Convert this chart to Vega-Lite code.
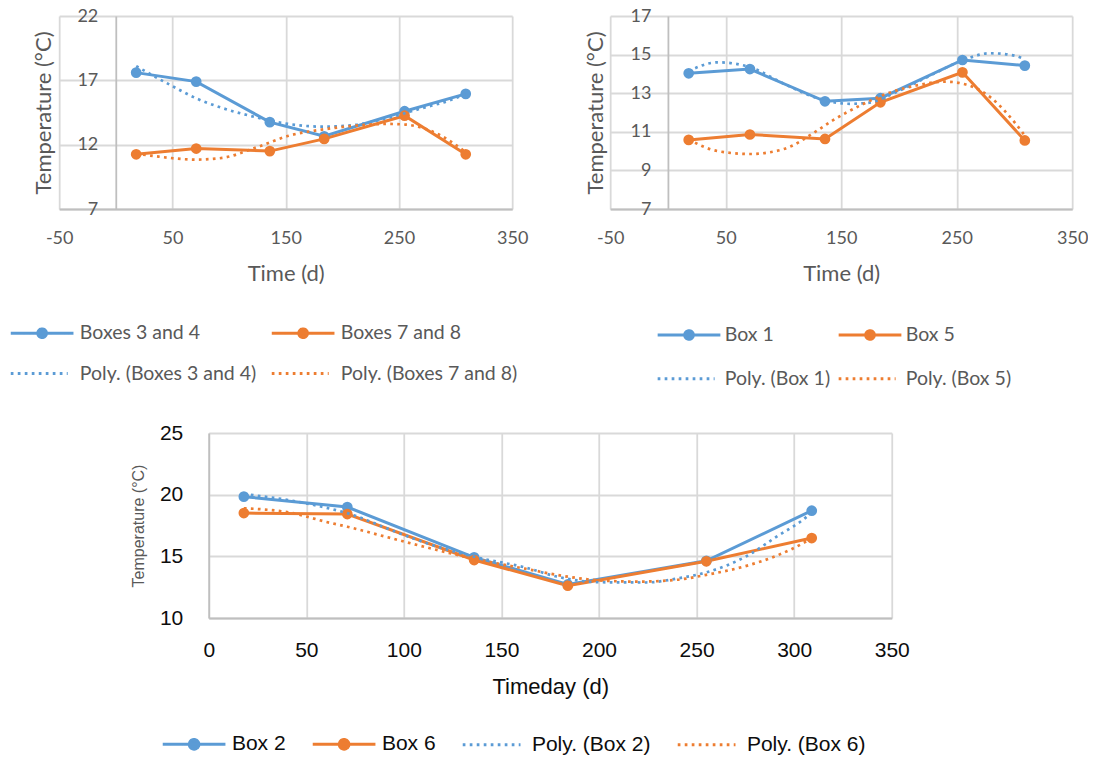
{
  "$schema": "https://vega.github.io/schema/vega-lite/v6.json",
  "background": "white",
  "padding": {"left": 10, "top": 7, "right": 0, "bottom": 0},
  "config": {
    "view": {"stroke": null},
    "axis": {"ticks": false, "titleFontWeight": "normal", "gridColor": "#D9D9D9", "gridWidth": 1.8, "domainColor": "#BFBFBF", "domainWidth": 1.8, "labelFlush": false, "labelOverlap": false},
    "legend": {"padding": 0, "title": null, "symbolOpacity": 1, "labelLimit": 500, "direction": "horizontal"}
  },
  "datasets": {
    "tl_obs": [
      {"s": "Boxes 3 and 4", "t": 18, "v": 17.6}, {"s": "Boxes 3 and 4", "t": 71, "v": 16.9}, {"s": "Boxes 3 and 4", "t": 136, "v": 13.75}, {"s": "Boxes 3 and 4", "t": 184, "v": 12.65}, {"s": "Boxes 3 and 4", "t": 255, "v": 14.6}, {"s": "Boxes 3 and 4", "t": 309, "v": 15.95},
      {"s": "Boxes 7 and 8", "t": 18, "v": 11.25}, {"s": "Boxes 7 and 8", "t": 71, "v": 11.7}, {"s": "Boxes 7 and 8", "t": 136, "v": 11.5}, {"s": "Boxes 7 and 8", "t": 184, "v": 12.45}, {"s": "Boxes 7 and 8", "t": 255, "v": 14.25}, {"s": "Boxes 7 and 8", "t": 309, "v": 11.25}
    ],
    "tl_poly": [
      {"s": "Poly. (Boxes 3 and 4)", "t": 18, "v": 18.1}, {"s": "Poly. (Boxes 3 and 4)", "t": 50, "v": 16.55}, {"s": "Poly. (Boxes 3 and 4)", "t": 71, "v": 15.6}, {"s": "Poly. (Boxes 3 and 4)", "t": 94, "v": 14.85}, {"s": "Poly. (Boxes 3 and 4)", "t": 123, "v": 14.15}, {"s": "Poly. (Boxes 3 and 4)", "t": 153, "v": 13.6}, {"s": "Poly. (Boxes 3 and 4)", "t": 182, "v": 13.4}, {"s": "Poly. (Boxes 3 and 4)", "t": 212, "v": 13.55}, {"s": "Poly. (Boxes 3 and 4)", "t": 241, "v": 14.1}, {"s": "Poly. (Boxes 3 and 4)", "t": 271, "v": 14.85}, {"s": "Poly. (Boxes 3 and 4)", "t": 295, "v": 15.45}, {"s": "Poly. (Boxes 3 and 4)", "t": 309, "v": 15.95},
      {"s": "Poly. (Boxes 7 and 8)", "t": 18, "v": 11.3}, {"s": "Poly. (Boxes 7 and 8)", "t": 35, "v": 11.1}, {"s": "Poly. (Boxes 7 and 8)", "t": 71, "v": 10.84}, {"s": "Poly. (Boxes 7 and 8)", "t": 94, "v": 10.97}, {"s": "Poly. (Boxes 7 and 8)", "t": 123, "v": 11.75}, {"s": "Poly. (Boxes 7 and 8)", "t": 153, "v": 12.7}, {"s": "Poly. (Boxes 7 and 8)", "t": 182, "v": 13.17}, {"s": "Poly. (Boxes 7 and 8)", "t": 212, "v": 13.48}, {"s": "Poly. (Boxes 7 and 8)", "t": 241, "v": 13.61}, {"s": "Poly. (Boxes 7 and 8)", "t": 256, "v": 13.56}, {"s": "Poly. (Boxes 7 and 8)", "t": 271, "v": 13.3}, {"s": "Poly. (Boxes 7 and 8)", "t": 300, "v": 12.0}, {"s": "Poly. (Boxes 7 and 8)", "t": 309, "v": 11.4}
    ],
    "tr_obs": [
      {"s": "Box 1", "t": 18, "v": 14.03}, {"s": "Box 1", "t": 71, "v": 14.25}, {"s": "Box 1", "t": 136, "v": 12.58}, {"s": "Box 1", "t": 184, "v": 12.74}, {"s": "Box 1", "t": 255, "v": 14.72}, {"s": "Box 1", "t": 309, "v": 14.43},
      {"s": "Box 5", "t": 18, "v": 10.58}, {"s": "Box 5", "t": 71, "v": 10.86}, {"s": "Box 5", "t": 136, "v": 10.63}, {"s": "Box 5", "t": 184, "v": 12.53}, {"s": "Box 5", "t": 255, "v": 14.08}, {"s": "Box 5", "t": 309, "v": 10.55}
    ],
    "tr_poly": [
      {"s": "Poly. (Box 1)", "t": 18, "v": 14.15}, {"s": "Poly. (Box 1)", "t": 43, "v": 14.6}, {"s": "Poly. (Box 1)", "t": 71, "v": 14.35}, {"s": "Poly. (Box 1)", "t": 100, "v": 13.5}, {"s": "Poly. (Box 1)", "t": 129, "v": 12.75}, {"s": "Poly. (Box 1)", "t": 158, "v": 12.45}, {"s": "Poly. (Box 1)", "t": 173, "v": 12.5}, {"s": "Poly. (Box 1)", "t": 201, "v": 13.15}, {"s": "Poly. (Box 1)", "t": 230, "v": 14.0}, {"s": "Poly. (Box 1)", "t": 255, "v": 14.7}, {"s": "Poly. (Box 1)", "t": 279, "v": 15.07}, {"s": "Poly. (Box 1)", "t": 300, "v": 14.95}, {"s": "Poly. (Box 1)", "t": 309, "v": 14.75},
      {"s": "Poly. (Box 5)", "t": 18, "v": 10.6}, {"s": "Poly. (Box 5)", "t": 43, "v": 10.0}, {"s": "Poly. (Box 5)", "t": 71, "v": 9.85}, {"s": "Poly. (Box 5)", "t": 100, "v": 10.1}, {"s": "Poly. (Box 5)", "t": 129, "v": 11.05}, {"s": "Poly. (Box 5)", "t": 143, "v": 11.6}, {"s": "Poly. (Box 5)", "t": 166, "v": 12.35}, {"s": "Poly. (Box 5)", "t": 184, "v": 12.85}, {"s": "Poly. (Box 5)", "t": 215, "v": 13.4}, {"s": "Poly. (Box 5)", "t": 240, "v": 13.6}, {"s": "Poly. (Box 5)", "t": 258, "v": 13.45}, {"s": "Poly. (Box 5)", "t": 280, "v": 12.75}, {"s": "Poly. (Box 5)", "t": 300, "v": 11.5}, {"s": "Poly. (Box 5)", "t": 309, "v": 10.8}
    ],
    "b_obs": [
      {"s": "Box 2", "t": 18, "v": 19.84}, {"s": "Box 2", "t": 71, "v": 19.0}, {"s": "Box 2", "t": 136, "v": 14.92}, {"s": "Box 2", "t": 184, "v": 12.72}, {"s": "Box 2", "t": 255, "v": 14.64}, {"s": "Box 2", "t": 309, "v": 18.7},
      {"s": "Box 6", "t": 18, "v": 18.51}, {"s": "Box 6", "t": 71, "v": 18.43}, {"s": "Box 6", "t": 136, "v": 14.7}, {"s": "Box 6", "t": 184, "v": 12.62}, {"s": "Box 6", "t": 255, "v": 14.6}, {"s": "Box 6", "t": 309, "v": 16.48}
    ],
    "b_poly": [
      {"s": "Poly. (Box 2)", "t": 18, "v": 20.05}, {"s": "Poly. (Box 2)", "t": 43, "v": 19.5}, {"s": "Poly. (Box 2)", "t": 60, "v": 18.95}, {"s": "Poly. (Box 2)", "t": 71, "v": 18.5}, {"s": "Poly. (Box 2)", "t": 94, "v": 17.1}, {"s": "Poly. (Box 2)", "t": 111, "v": 16.1}, {"s": "Poly. (Box 2)", "t": 136, "v": 14.97}, {"s": "Poly. (Box 2)", "t": 162, "v": 14.1}, {"s": "Poly. (Box 2)", "t": 180, "v": 13.3}, {"s": "Poly. (Box 2)", "t": 200, "v": 12.9}, {"s": "Poly. (Box 2)", "t": 224, "v": 12.88}, {"s": "Poly. (Box 2)", "t": 240, "v": 13.2}, {"s": "Poly. (Box 2)", "t": 255, "v": 13.7}, {"s": "Poly. (Box 2)", "t": 276, "v": 15.05}, {"s": "Poly. (Box 2)", "t": 291, "v": 16.6}, {"s": "Poly. (Box 2)", "t": 307, "v": 18.3}, {"s": "Poly. (Box 2)", "t": 309, "v": 18.6},
      {"s": "Poly. (Box 6)", "t": 18, "v": 18.9}, {"s": "Poly. (Box 6)", "t": 43, "v": 18.5}, {"s": "Poly. (Box 6)", "t": 60, "v": 17.8}, {"s": "Poly. (Box 6)", "t": 71, "v": 17.4}, {"s": "Poly. (Box 6)", "t": 94, "v": 16.45}, {"s": "Poly. (Box 6)", "t": 111, "v": 15.75}, {"s": "Poly. (Box 6)", "t": 136, "v": 14.8}, {"s": "Poly. (Box 6)", "t": 162, "v": 14.0}, {"s": "Poly. (Box 6)", "t": 184, "v": 13.35}, {"s": "Poly. (Box 6)", "t": 200, "v": 13.05}, {"s": "Poly. (Box 6)", "t": 220, "v": 12.95}, {"s": "Poly. (Box 6)", "t": 240, "v": 13.1}, {"s": "Poly. (Box 6)", "t": 255, "v": 13.5}, {"s": "Poly. (Box 6)", "t": 276, "v": 14.25}, {"s": "Poly. (Box 6)", "t": 291, "v": 15.05}, {"s": "Poly. (Box 6)", "t": 307, "v": 16.3}, {"s": "Poly. (Box 6)", "t": 309, "v": 16.5}
    ]
  },
  "resolve": {"scale": {"color": "independent"}, "legend": {"color": "independent"}},
  "center": true,
  "spacing": 33,
  "vconcat": [
    {
      "hconcat": [
        {
          "width": 453, "height": 193,
          "encoding": {
            "x": {"field": "t", "type": "quantitative", "scale": {"domain": [-50, 350], "nice": false, "zero": false},
              "axis": {"values": [-50, 50, 150, 250, 350], "labelExpr": "datum.value < 0 ? '-' + abs(datum.value) : datum.label", "title": "Time (d)", "grid": true, "labelFont": "Lato", "labelFontSize": 18, "labelColor": "#595959", "labelPadding": 20, "titleFont": "Lato", "titleFontSize": 22, "titleColor": "#595959", "titlePadding": 16}},
            "y": {"field": "v", "type": "quantitative", "scale": {"domain": [7, 22], "nice": false, "zero": false},
              "axis": {"values": [7, 12, 17, 22], "title": "Temperature (°C)", "grid": true, "offset": -56.6, "labelFont": "Lato", "labelFontSize": 18, "labelColor": "#595959", "labelPadding": 18, "titleFont": "Lato", "titleFontSize": 22, "titleColor": "#595959", "titlePadding": 21}},
            "color": {"field": "s", "type": "nominal",
              "scale": {"domain": ["Boxes 3 and 4", "Boxes 7 and 8", "Poly. (Boxes 3 and 4)", "Poly. (Boxes 7 and 8)"], "range": ["#5B9BD5", "#ED7D31", "#5B9BD5", "#ED7D31"]},
              "legend": {"orient": "none", "legendX": -48.4, "legendY": 307, "columns": 2, "columnPadding": 8, "rowPadding": 18.8,
                "symbolSize": 256, "symbolStrokeWidth": 3, "symbolOffset": 21.6, "labelOffset": 28,
                "labelFont": "Lato", "labelFontSize": 19.5, "labelColor": "#595959",
                "encode": {"symbols": {"update": {
                  "shape": {"signal": "indexof(datum.value, 'Poly') == 0 ? 'M-3.92,0L3.2,0' : 'M-3.92,0L3.92,0M-0.54,0A0.54,0.54,0,1,1,0.54,0A0.54,0.54,0,1,1,-0.54,0Z'"},
                  "fill": {"signal": "datum.value == 'Boxes 3 and 4' ? '#5B9BD5' : (datum.value == 'Boxes 7 and 8' ? '#ED7D31' : 'transparent')"},
                  "stroke": {"signal": "indexof(datum.value, '3 and 4') >= 0 ? '#5B9BD5' : '#ED7D31'"},
                  "strokeDash": {"signal": "indexof(datum.value, 'Poly') == 0 ? [2.7, 4.3] : [1, 0]"}
                }}}}}
          },
          "layer": [
            {"data": {"name": "tl_obs"}, "mark": {"type": "line", "strokeWidth": 3}},
            {"data": {"name": "tl_obs"}, "mark": {"type": "point", "filled": true, "size": 115, "opacity": 1}},
            {"data": {"name": "tl_poly"}, "mark": {"type": "line", "strokeWidth": 2.7, "strokeDash": [2.7, 4.3], "interpolate": "monotone"}}
          ]
        },
        {
          "width": 462, "height": 193,
          "encoding": {
            "x": {"field": "t", "type": "quantitative", "scale": {"domain": [-50, 350], "nice": false, "zero": false},
              "axis": {"values": [-50, 50, 150, 250, 350], "labelExpr": "datum.value < 0 ? '-' + abs(datum.value) : datum.label", "title": "Time (d)", "grid": true, "labelFont": "Lato", "labelFontSize": 18, "labelColor": "#595959", "labelPadding": 20, "titleFont": "Lato", "titleFontSize": 22, "titleColor": "#595959", "titlePadding": 16}},
            "y": {"field": "v", "type": "quantitative", "scale": {"domain": [7, 17], "nice": false, "zero": false},
              "axis": {"values": [7, 9, 11, 13, 15, 17], "title": "Temperature (°C)", "grid": true, "offset": -57.75, "labelFont": "Lato", "labelFontSize": 18, "labelColor": "#595959", "labelPadding": 17, "titleFont": "Lato", "titleFontSize": 22, "titleColor": "#595959", "titlePadding": 23}},
            "color": {"field": "s", "type": "nominal",
              "scale": {"domain": ["Box 1", "Box 5", "Poly. (Box 1)", "Poly. (Box 5)"], "range": ["#5B9BD5", "#ED7D31", "#5B9BD5", "#ED7D31"]},
              "legend": {"orient": "none", "legendX": 47.5, "legendY": 308.8, "columns": 2, "columnPadding": 1, "rowPadding": 22.2,
                "symbolSize": 256, "symbolStrokeWidth": 3, "symbolOffset": 21.6, "labelOffset": 26,
                "labelFont": "Lato", "labelFontSize": 19.5, "labelColor": "#595959",
                "encode": {"symbols": {"update": {
                  "shape": {"signal": "indexof(datum.value, 'Poly') == 0 ? 'M-3.92,0L3.2,0' : 'M-3.92,0L3.92,0M-0.54,0A0.54,0.54,0,1,1,0.54,0A0.54,0.54,0,1,1,-0.54,0Z'"},
                  "fill": {"signal": "datum.value == 'Box 1' ? '#5B9BD5' : (datum.value == 'Box 5' ? '#ED7D31' : 'transparent')"},
                  "stroke": {"signal": "indexof(datum.value, 'Box 1') >= 0 ? '#5B9BD5' : '#ED7D31'"},
                  "strokeDash": {"signal": "indexof(datum.value, 'Poly') == 0 ? [2.7, 4.3] : [1, 0]"}
                }}}}}
          },
          "layer": [
            {"data": {"name": "tr_obs"}, "mark": {"type": "line", "strokeWidth": 3}},
            {"data": {"name": "tr_obs"}, "mark": {"type": "point", "filled": true, "size": 115, "opacity": 1}},
            {"data": {"name": "tr_poly"}, "mark": {"type": "line", "strokeWidth": 2.7, "strokeDash": [2.7, 4.3], "interpolate": "monotone"}}
          ]
        }
      ],
      "spacing": 98,
      "bounds": "flush",
      "resolve": {"scale": {"color": "independent"}, "legend": {"color": "independent"}}
    },
    {
      "width": 683, "height": 185,
      "title": {"text": " ", "orient": "right", "offset": 19, "fontSize": 10},
      "encoding": {
        "x": {"field": "t", "type": "quantitative", "scale": {"domain": [0, 350], "nice": false, "zero": false},
          "axis": {"values": [0, 50, 100, 150, 200, 250, 300, 350], "title": "Timeday (d)", "grid": true, "labelFont": "Liberation Sans", "labelFontSize": 21, "labelColor": "#0D0D0D", "labelPadding": 21, "titleFont": "Liberation Sans", "titleFontSize": 22, "titleColor": "#0D0D0D", "titlePadding": 16}},
        "y": {"field": "v", "type": "quantitative", "scale": {"domain": [10, 25], "nice": false, "zero": false},
          "axis": {"values": [10, 15, 20, 25], "title": "Temperature (°C)", "grid": true, "labelFont": "Liberation Sans", "labelFontSize": 21, "labelColor": "#0D0D0D", "labelPadding": 26, "titleFont": "Liberation Sans", "titleFontSize": 16, "titleColor": "#595959", "titlePadding": 13}},
        "color": {"field": "s", "type": "nominal",
          "scale": {"domain": ["Box 2", "Box 6", "Poly. (Box 2)", "Poly. (Box 6)"], "range": ["#5B9BD5", "#ED7D31", "#5B9BD5", "#ED7D31"]},
          "legend": {"orient": "none", "legendX": -46, "legendY": 300.5, "columns": 4, "columnPadding": 20, "rowPadding": 0,
            "symbolSize": 256, "symbolStrokeWidth": 3, "symbolOffset": 20.85, "labelOffset": 27.3,
            "labelFont": "Liberation Sans", "labelFontSize": 21, "labelColor": "#0D0D0D",
            "encode": {"symbols": {"update": {
              "shape": {"signal": "indexof(datum.value, 'Poly') == 0 ? 'M-3.92,0L3.3,0' : 'M-3.92,0L3.92,0M-0.6,0A0.6,0.6,0,1,1,0.6,0A0.6,0.6,0,1,1,-0.6,0Z'"},
              "fill": {"signal": "datum.value == 'Box 2' ? '#5B9BD5' : (datum.value == 'Box 6' ? '#ED7D31' : 'transparent')"},
              "stroke": {"signal": "indexof(datum.value, 'Box 2') >= 0 ? '#5B9BD5' : '#ED7D31'"},
              "strokeDash": {"signal": "indexof(datum.value, 'Poly') == 0 ? [2.7, 4.3] : [1, 0]"}
            }}}}}
      },
      "layer": [
        {"data": {"name": "b_obs"}, "mark": {"type": "line", "strokeWidth": 3}},
        {"data": {"name": "b_obs"}, "mark": {"type": "point", "filled": true, "size": 115, "opacity": 1}},
        {"data": {"name": "b_poly"}, "mark": {"type": "line", "strokeWidth": 2.7, "strokeDash": [2.7, 4.3], "interpolate": "monotone"}}
      ]
    }
  ]
}
